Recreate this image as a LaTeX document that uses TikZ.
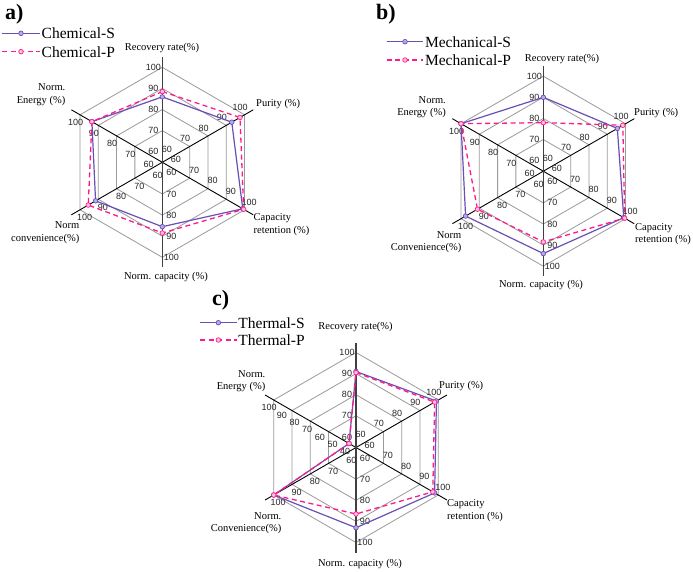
\documentclass[tikz,border=0pt]{standalone}
\usepackage{fontspec}
\setmainfont{Liberation Serif}
\newfontfamily\ticksf{Liberation Sans}
\usetikzlibrary{calc}
\definecolor{sline}{HTML}{6A4FB5}
\definecolor{sfill}{HTML}{B9A9EA}
\definecolor{pline}{HTML}{FF1A8C}
\definecolor{pfill}{HTML}{FFC2E0}
\definecolor{gridc}{HTML}{9A9A9A}
\tikzset{
 gridline/.style={draw=gridc, line width=0.8pt},
 vaxis/.style={draw=black!75, line width=1.5pt},
 daxis/.style={draw=black, line width=0.9pt},
 sser/.style={draw=sline, line width=1.2pt, line join=round},
 pser/.style={draw=pline, line width=1.3pt, dash pattern=on 5pt off 3.5pt},
 smark/.style={circle, draw=sline, fill=sfill, line width=0.7pt, inner sep=0pt, minimum size=4.6pt},
 pmark/.style={circle, draw=pline, fill=pfill, line width=0.7pt, inner sep=0pt, minimum size=4.6pt},
 ticklab/.style={font=\ticksf\fontsize{9}{9}\selectfont, inner sep=0pt, text=black!85},
 axlab/.style={font=\fontsize{10.5}{12.5}\selectfont, inner sep=0pt},
 leglab/.style={font=\fontsize{15.5}{16}\selectfont, inner sep=0pt, anchor=west},
 panlab/.style={font=\bfseries\fontsize{22}{22}\selectfont, inner sep=0pt, anchor=west},
}
% grid, axes and tick labels of one radar chart
\newcommand\rgrid[3]{%
  \foreach \v in {70,80,90,100} {
    \pgfmathsetmacro\rr{(\v-55)*95/45}
    \draw[gridline] (90:\rr) -- (30:\rr) -- (-30:\rr) -- (-90:\rr) -- (210:\rr) -- (150:\rr) -- cycle;
  }
  \coordinate (#1-top) at (90:105);
  \coordinate (#1-bot) at (-90:105);
  \coordinate (#1-ur) at (30:105);
  \coordinate (#1-ll) at (210:105);
  \coordinate (#1-lr) at (-30:105);
  \coordinate (#1-ul) at (150:105);
  \draw[daxis] (#1-ur) -- (#1-ll);
  \draw[daxis] (#1-lr) -- (#1-ul);
  \draw[vaxis] (#1-top) -- (#1-bot);
  \foreach \a [count=\k] in {90,30,-30,-90,210} {
    \foreach \v in {60,70,80,90,100} {
      \pgfmathsetmacro\rr{(\v-55)*95/45}
      \node[ticklab] (#1-t\k-\v) at ([shift={(\a+90:9)}]\a:\rr) {\v};
    }
  }
  \foreach \v in {#2} {
    \pgfmathsetmacro\rr{(\v-#3)*95/(100-#3)}
    \node[ticklab] (#1-t6-\v) at ([shift={(240:9)}]150:\rr) {\v};
  }
}
% one data series: name, line style, mark style, energy-axis origin, six values
\newcommand\rseries[5]{%
  \foreach \val [count=\i] in {#5} {
    \pgfmathsetmacro\ang{150-60*\i}
    \pgfmathsetmacro\vz{ifthenelse(\i==6,#4,55)}
    \pgfmathsetmacro\rr{(\val-\vz)*95/(100-\vz)}
    \coordinate (#1-\i) at (\ang:\rr);
  }
  \draw[#2] (#1-1) -- (#1-2) -- (#1-3) -- (#1-4) -- (#1-5) -- (#1-6) -- cycle;
  \foreach \i in {1,...,6} \node[#3] (#1-m\i) at (#1-\i) {};
}
% legend row: name, x0, x1, y, line style, mark style, text
\newcommand\legrow[7]{%
  \coordinate (#1-a) at (#2,#4);
  \coordinate (#1-b) at (#3,#4);
  \draw[#5] (#1-a) -- (#1-b);
  \node[#6] (#1-m) at ($(#1-a)!0.5!(#1-b)$) {};
  \node[leglab] (#1-t) at ([xshift=1.5pt]#1-b) {#7};
}
\begin{document}
\begin{tikzpicture}[x=1pt,y=-1pt]
\useasboundingbox (0,0) rectangle (693,571);
\fill[white] (0,0) rectangle (693,571);

% ---------------- chart a
\begin{scope}[shift={(162.3,162.3)}, yscale=-1]
  \rgrid{a}{60,70,80,90,100}{55}
  \rseries{aS}{sser}{smark}{55}{86,93,99,85.5,91.5,93.5}
  \rseries{aP}{pser}{pmark}{55}{88.5,97.5,99.5,88.5,95.5,93.5}
\end{scope}
\node[panlab] (alab) at (5,14) {a)};
\legrow{aL1}{2}{40}{33.3}{sser}{smark}{Chemical-S}
\legrow{aL2}{2}{40}{51.7}{pser}{pmark}{Chemical-P}
\node[axlab] (a-rec) at (162,48) {Recovery rate(\%)};
\node[axlab, anchor=west] (a-pur) at (256,104) {Purity (\%)};
\node[axlab, anchor=west, align=left] (a-cr) at (253.5,224.5) {Capacity\\retention (\%)};
\node[axlab] (a-nc) at (166,277) {Norm. capacity (\%)};
\node[axlab, anchor=east, align=right] (a-conv) at (79.5,232.5) {Norm\\convenience(\%)};
\node[axlab, anchor=east, align=right] (a-en) at (65.5,94.5) {Norm.\\Energy (\%)};

% ---------------- chart b
\begin{scope}[shift={(543.3,171.2)}, yscale=-1]
  \rgrid{b}{60,70,80,90,100}{55}
  \rseries{bS}{sser}{smark}{55}{90,95.5,99,94,97.5,100}
  \rseries{bP}{pser}{pmark}{55}{78,98.5,99.5,88.5,91,100}
\end{scope}
\node[panlab] (blab) at (376,14) {b)};
\legrow{bL1}{386.7}{423.3}{41.7}{sser}{smark}{Mechanical-S}
\legrow{bL2}{386.7}{423.3}{60}{pser}{pmark}{Mechanical-P}
\node[axlab] (b-rec) at (562,59.3) {Recovery rate(\%)};
\node[axlab, anchor=west] (b-pur) at (634,112.7) {Purity (\%)};
\node[axlab, anchor=west, align=left] (b-cr) at (635,234.3) {Capacity\\retention (\%)};
\node[axlab] (b-nc) at (541,285) {Norm. capacity (\%)};
\node[axlab, anchor=east, align=right] (b-conv) at (461.5,242) {Norm\\Convenience(\%)};
\node[axlab, anchor=east, align=right] (b-en) at (446,107) {Norm.\\Energy (\%)};

% ---------------- chart c
\begin{scope}[shift={(356,447.5)}, yscale=-1]
  \rgrid{c}{40,50,60,70,80,90,100}{35}
  \rseries{cS}{sser}{smark}{35}{91,99,98,93,100,40.5}
  \rseries{cP}{pser}{pmark}{35}{90.5,98,97,86.5,100,40.5}
\end{scope}
\node[panlab] (clab) at (212,300) {c)};
\legrow{cL1}{200}{236.7}{322.7}{sser}{smark}{Thermal-S}
\legrow{cL2}{200}{236.7}{340}{pser}{pmark}{Thermal-P}
\node[axlab] (c-rec) at (355.5,327.3) {Recovery rate(\%)};
\node[axlab, anchor=west] (c-pur) at (439,386) {Purity (\%)};
\node[axlab, anchor=west, align=left] (c-cr) at (447,510.5) {Capacity\\retention (\%)};
\node[axlab] (c-nc) at (360,564) {Norm. capacity (\%)};
\node[axlab, anchor=east, align=right] (c-conv) at (281.5,523) {Norm.\\Convenience(\%)};
\node[axlab, anchor=east, align=right] (c-en) at (265.5,381.3) {Norm.\\Energy (\%)};
\end{tikzpicture}
\end{document}
